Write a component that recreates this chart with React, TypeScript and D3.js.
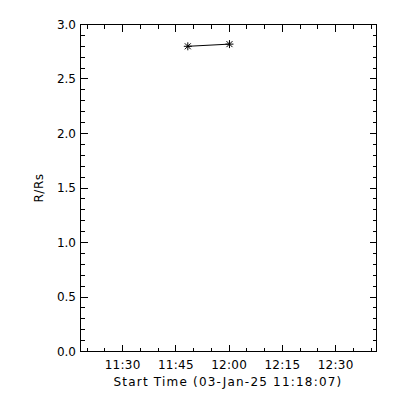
import React, { useEffect, useRef } from "react";
import * as d3 from "d3";

// observation times (UTC) and heights in solar radii
const times = ["2025-01-03T11:48:21Z", "2025-01-03T12:00:05Z"];
const heights = [2.8, 2.82];
const timeRange = ["2025-01-03T11:18:07Z", "2025-01-03T12:41:30Z"];
const yTicks = [0, 0.5, 1.0, 1.5, 2.0, 2.5, 3.0];
const xLabel = "Start Time (03-Jan-25 11:18:07)";
const yLabel = "R/Rs";

const W = 400;
const H = 400;
const FONT = "'DejaVu Sans', sans-serif";

export default function App() {
  const ref = useRef<SVGSVGElement | null>(null);

  useEffect(() => {
    const svg = d3.select(ref.current);
    svg.selectAll("*").remove();

    const left = 80.5, right = 376.5, top = 24.5, bottom = 351.5;

    const x = d3
      .scaleUtc()
      .domain(timeRange.map((t) => new Date(t)))
      .range([left, right]);
    const y = d3.scaleLinear().domain([0, 3]).range([bottom, top]);

    const g = svg.append("g").attr("shape-rendering", "crispEdges");

    // frame
    g.append("rect")
      .attr("x", left)
      .attr("y", top)
      .attr("width", right - left)
      .attr("height", bottom - top)
      .attr("fill", "none")
      .attr("stroke", "#000");

    const majorX = x.ticks(d3.utcMinute.every(15)!);
    const minorX = x.ticks(d3.utcMinute.every(5)!);
    const minorY = d3.range(0, 3.01, 0.1);

    const tick = (x1: number, y1: number, x2: number, y2: number) =>
      g.append("line")
        .attr("x1", Math.round(x1 - 0.5) + 0.5)
        .attr("x2", Math.round(x2 - 0.5) + 0.5)
        .attr("y1", Math.round(y1 - 0.5) + 0.5)
        .attr("y2", Math.round(y2 - 0.5) + 0.5)
        .attr("stroke", "#000");

    minorX.forEach((d) => {
      const isMajor = majorX.some((m) => +m === +d);
      const len = isMajor ? 7 : 4;
      tick(x(d), bottom, x(d), bottom - len);
      tick(x(d), top, x(d), top + len);
    });
    minorY.forEach((v) => {
      const isMajor = Math.abs(v * 2 - Math.round(v * 2)) < 1e-6;
      const len = isMajor ? 7 : 4;
      tick(left, y(v), left + len, y(v));
      tick(right, y(v), right - len, y(v));
    });

    const fmt = d3.utcFormat("%H:%M");
    svg.append("g")
      .selectAll("text")
      .data(majorX)
      .join("text")
      .attr("x", (d) => x(d))
      .attr("y", 369)
      .attr("text-anchor", "middle")
      .attr("font-family", FONT)
      .attr("font-size", 12)
      .attr("letter-spacing", 0.3)
      .text((d) => fmt(d));

    svg.append("g")
      .selectAll("text")
      .data(yTicks)
      .join("text")
      .attr("x", 76)
      .attr("y", (d) => y(d) + 4)
      .attr("text-anchor", "end")
      .attr("font-family", FONT)
      .attr("font-size", 12)
      .text((d) => d.toFixed(1));

    svg.append("text")
      .attr("x", 228)
      .attr("y", 386)
      .attr("text-anchor", "middle")
      .attr("font-family", FONT)
      .attr("font-size", 12)
      .attr("letter-spacing", 1.2)
      .text(xLabel);

    svg.append("text")
      .attr("transform", `translate(43,${(top + bottom) / 2}) rotate(-90)`)
      .attr("text-anchor", "middle")
      .attr("font-family", FONT)
      .attr("font-size", 12)
      .attr("letter-spacing", 0.5)
      .text(yLabel);

    // data line and asterisk markers
    const pts = times.map((t, i) => [x(new Date(t)), y(heights[i])] as [number, number]);
    svg.append("path")
      .attr("d", d3.line()(pts))
      .attr("fill", "none")
      .attr("stroke", "#000");

    const star = svg.append("g").attr("stroke", "#000").attr("stroke-width", 1);
    pts.forEach(([px, py]) => {
      const r = 4;
      star.append("line").attr("x1", px - r).attr("x2", px + r).attr("y1", py).attr("y2", py);
      star.append("line").attr("x1", px).attr("x2", px).attr("y1", py - r).attr("y2", py + r);
      star.append("line").attr("x1", px - r * 0.75).attr("x2", px + r * 0.75).attr("y1", py - r * 0.75).attr("y2", py + r * 0.75);
      star.append("line").attr("x1", px - r * 0.75).attr("x2", px + r * 0.75).attr("y1", py + r * 0.75).attr("y2", py - r * 0.75);
    });
  }, []);

  return (
    <div style={{ position: "absolute", left: 0, top: 0, width: W, height: H, background: "#fff" }}>
      <svg ref={ref} width={W} height={H} style={{ display: "block" }} />
    </div>
  );
}
